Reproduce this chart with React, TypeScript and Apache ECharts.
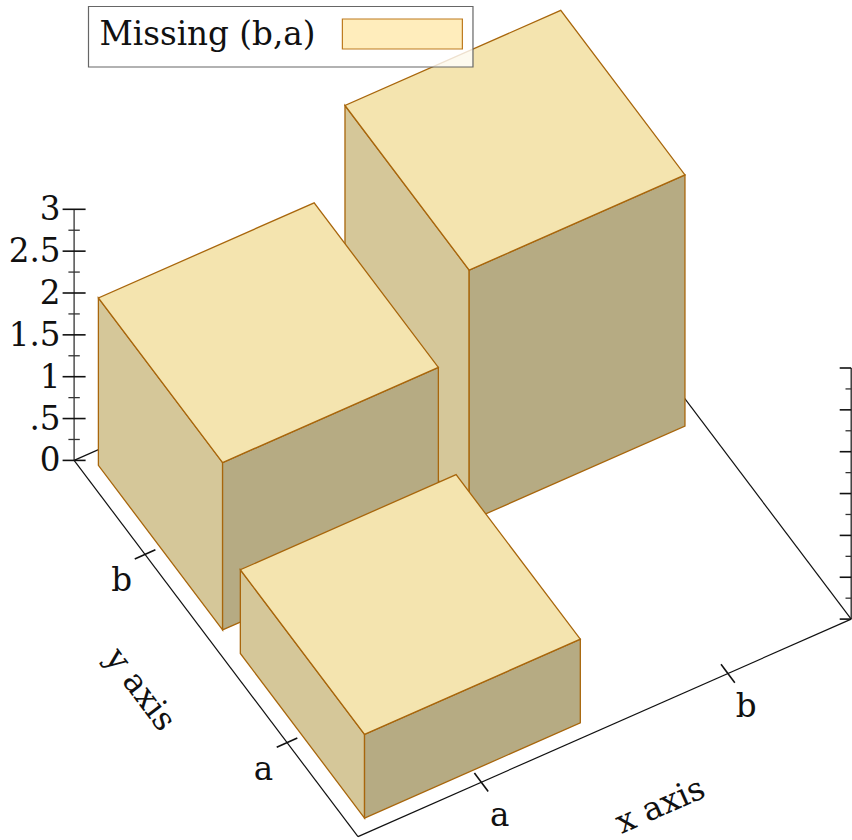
import React, { useEffect, useRef } from "react";
import * as echarts from "echarts";

const seriesName = "Missing (b,a)";
const xLabels = ["a", "b"];
const yLabels = ["a", "b"];
// [x category index, y category index, height], drawn back to front; (b,a) is missing
const barCells = [
  [1, 1, 3],
  [0, 1, 2],
  [0, 0, 1],
];
const zMajorTicks = [0, 0.5, 1, 1.5, 2, 2.5, 3];
const zMajorLabels = ["0", ".5", "1", "1.5", "2", "2.5", "3"];
const zMinorTicks = [0.25, 0.75, 1.25, 1.75, 2.25, 2.75];

const FONT = "'DejaVu Serif', serif";
const FS = 32.6;
const ORIGIN = [358, 836.6];
const XV = [493.2, -217.5];
const YV = [-283.9, -376.2];
const ZV = 83.7;
const BAR_W = 0.4375;

// x,y in 0..1 across the floor, z in data units -> screen value pair
const proj = (x: number, y: number, z: number) => [
  ORIGIN[0] + XV[0] * x + YV[0] * y,
  ORIGIN[1] + XV[1] * x + YV[1] * y - ZV * z,
];

const lineStyle = { stroke: "#111", lineWidth: 1.2, fill: null };

function renderBar(_p: any, api: any) {
  const xi = api.value(0);
  const yi = api.value(1);
  const h = api.value(2);
  const x0 = (xi + 0.5) / 2 - BAR_W / 2;
  const y0 = (yi + 0.5) / 2 - BAR_W / 2;
  const x1 = x0 + BAR_W;
  const y1 = y0 + BAR_W;
  const P = (x: number, y: number, z: number) => api.coord(proj(x, y, z));
  const face = (pts: number[][], fill: string) => ({
    type: "polygon",
    shape: { points: pts },
    style: { fill, stroke: "#a8660c", lineWidth: 1.3 },
  });
  return {
    type: "group",
    children: [
      face([P(x0, y0, 0), P(x0, y1, 0), P(x0, y1, h), P(x0, y0, h)], "#D5C799"),
      face([P(x0, y0, 0), P(x1, y0, 0), P(x1, y0, h), P(x0, y0, h)], "#B6AB83"),
      face([P(x0, y0, h), P(x1, y0, h), P(x1, y1, h), P(x0, y1, h)], "#F4E4AF"),
    ],
  };
}

function seg(a: number[], b: number[], width = 1.2, stroke = "#111") {
  return {
    type: "line",
    shape: { x1: a[0], y1: a[1], x2: b[0], y2: b[1] },
    style: { ...lineStyle, stroke, lineWidth: width },
  };
}

function txt(text: string, p: number[], align: string, rotation = 0) {
  return {
    type: "text",
    x: p[0],
    y: p[1],
    rotation,
    style: {
      text,
      fill: "#111",
      fontFamily: FONT,
      fontSize: FS,
      align,
      verticalAlign: "middle",
    },
  };
}

function renderAxes(_p: any, api: any) {
  const C = (p: number[]) => api.coord(p);
  const P = (x: number, y: number, z: number) => C(proj(x, y, z));
  const off = (p: number[], dx: number, dy: number) => C([p[0] + dx, p[1] + dy]);
  const children: any[] = [];

  // floor edges
  children.push(seg(P(0, 0, 0), P(1, 0, 0)));
  children.push(seg(P(0, 0, 0), P(0, 1, 0)));
  children.push(seg(P(0, 1, 0), P(1, 1, 0)));
  children.push(seg(P(1, 0, 0), P(1, 1, 0)));

  // vertical axes
  children.push(seg(P(0, 1, 0), P(0, 1, 3), 1.3, "#333"));
  children.push(seg(P(1, 0, 0), P(1, 0, 3), 1.3, "#222"));

  zMajorTicks.forEach((z, i) => {
    const l = proj(0, 1, z);
    children.push(seg(off(l, -11.5, 0), off(l, 11.5, 0), 1.6));
    children.push(txt(zMajorLabels[i], off(l, -13.5, 0), "right"));
    const r = proj(1, 0, z);
    children.push(seg(off(r, -11.5, 0), C(r), 1.6));
  });
  zMinorTicks.forEach((z) => {
    const l = proj(0, 1, z);
    children.push(seg(off(l, -5.7, 0), off(l, 5.7, 0), 1.3, "#333"));
    const r = proj(1, 0, z);
    children.push(seg(off(r, -5.7, 0), C(r), 1.3, "#333"));
  });

  // category ticks
  xLabels.forEach((t, i) => {
    const p = proj((i + 0.5) / 2, 0, 0);
    children.push(seg(off(p, -6.9, -9.2), off(p, 6.9, 9.2), 1.6));
    children.push(txt(t, off(p, 18.3, 32.5), "center"));
  });
  yLabels.forEach((t, i) => {
    const p = proj(0, (i + 0.5) / 2, 0);
    children.push(seg(off(p, -10.3, 4.6), off(p, 10.3, -4.6), 1.6));
    children.push(txt(t, off(p, -23.5, 26), "center"));
  });

  children.push(txt("x axis", C([660, 805]), "center", 0.415));
  children.push(txt("y axis", C([141, 689]), "center", -0.925));

  return { type: "group", children };
}

export default function App() {
  const ref = useRef<HTMLDivElement>(null);
  useEffect(() => {
    document.body.style.margin = "0";
    const chart = echarts.init(ref.current!, undefined, { renderer: "svg" });
    chart.setOption({
      animation: false,
      backgroundColor: "#fff",
      grid: { left: 0, right: 0, top: 0, bottom: 0 },
      xAxis: { type: "value", min: 0, max: 852, show: false },
      yAxis: { type: "value", min: 0, max: 840, inverse: true, show: false },
      legend: {
        left: 88.5,
        top: 6.5,
        align: "right",
        icon: "rect",
        itemWidth: 120,
        itemHeight: 30,
        padding: [11, 10, 16.5, 11],
        backgroundColor: "rgba(255,255,255,0.8)",
        borderColor: "#666",
        borderWidth: 1.2,
        selectedMode: false,
        data: [
          {
            name: seriesName,
            itemStyle: { color: "#FFEDBC", borderColor: "#bd7a1e", borderWidth: 1.2 },
          },
        ],
        textStyle: {
          fontFamily: FONT,
          fontSize: FS,
          color: "#111",
          padding: [0, 22, 0, 0],
        },
      },
      series: [
        {
          type: "custom",
          name: "axes",
          silent: true,
          clip: false,
          z: 1,
          data: [[0, 0]],
          renderItem: renderAxes,
        },
        {
          type: "custom",
          name: seriesName,
          silent: true,
          clip: false,
          z: 2,
          itemStyle: { color: "#FFEDBC" },
          data: barCells,
          renderItem: renderBar,
        },
      ],
    });
    return () => chart.dispose();
  }, []);
  return <div ref={ref} style={{ width: 852, height: 840 }} />;
}
